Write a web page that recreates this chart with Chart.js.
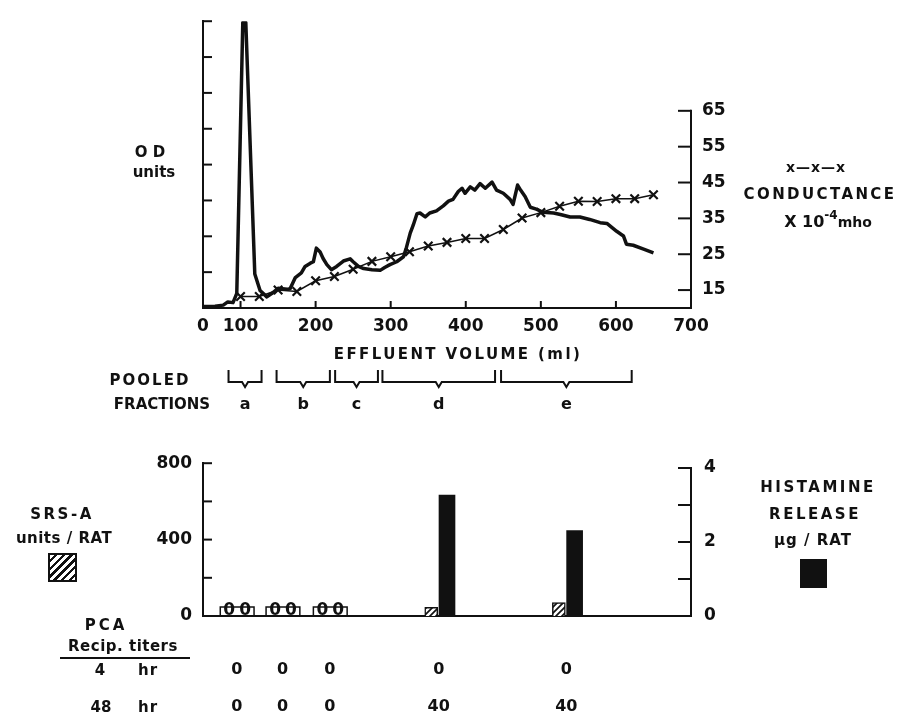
<!DOCTYPE html>
<html>
<head>
<meta charset="utf-8">
<script src="https://cdn.jsdelivr.net/npm/chart.js@4"></script>
<style>
  body { margin:0; background:#fff; width:899px; height:721px; position:relative; overflow:hidden;
         font-family:"DejaVu Sans", sans-serif; font-weight:bold; color:#111; }
  #top { position:absolute; left:0; top:0; }
  #bot { position:absolute; left:0; top:440px; }
  .t { position:absolute; transform:translate(-50%,-50%); white-space:nowrap; font-size:15px; line-height:1; }
  .sq { position:absolute; box-sizing:border-box; border:2px solid #111; }
</style>
</head>
<body>
<canvas id="top" width="899" height="440"></canvas>
<canvas id="bot" width="899" height="281"></canvas>

<!-- top panel labels -->
<div class="t" style="left:150px;top:152px">O D</div>
<div class="t" style="left:154px;top:172px">units</div>
<div class="t" style="left:816px;top:167px;font-size:14px;letter-spacing:1px">x—x—x</div>
<div class="t" style="left:820px;top:194px;letter-spacing:2.4px">CONDUCTANCE</div>
<div class="t" style="left:828px;top:222px;font-size:16px">X 10<span style="font-size:12px;position:relative;top:-8px">-4</span><span style="font-size:14px">mho</span></div>
<div class="t" style="left:458px;top:354px;letter-spacing:2.4px">EFFLUENT VOLUME (ml)</div>
<div class="t" style="left:150px;top:380px;letter-spacing:2px">POOLED</div>
<div class="t" style="left:162px;top:404px;letter-spacing:0px">FRACTIONS</div>

<!-- bottom panel labels -->
<div class="t" style="left:62px;top:514px;letter-spacing:2.5px">SRS-A</div>
<div class="t" style="left:64px;top:538px;letter-spacing:0.5px">units / RAT</div>
<div class="sq" style="left:48px;top:553px;width:29px;height:29px;background:repeating-linear-gradient(135deg,#fff 0 3px,#111 3px 5.5px)"></div>
<div class="t" style="left:818px;top:487px;letter-spacing:2.5px">HISTAMINE</div>
<div class="t" style="left:815px;top:514px;letter-spacing:2.5px">RELEASE</div>
<div class="t" style="left:813px;top:540px;letter-spacing:1px">µg / RAT</div>
<div class="sq" style="left:800px;top:559px;width:27px;height:29px;background:#111"></div>
<div class="t" style="left:106px;top:625px;letter-spacing:3px">PCA</div>
<div class="t" style="left:123px;top:646px;letter-spacing:0.5px">Recip. titers</div>
<div style="position:absolute;left:60px;top:657px;width:130px;height:0;border-top:2px solid #111"></div>
<div class="t" style="left:100px;top:670px">4</div>
<div class="t" style="left:148px;top:670px;letter-spacing:1px">hr</div>
<div class="t" style="left:101px;top:707px">48</div>
<div class="t" style="left:148px;top:707px;letter-spacing:1px">hr</div>

<script>
// ---------------------
// data
// ---------------------
const odVolume = [50, 66, 77, 83, 90, 95, 103, 107, 119, 126, 135, 142, 150, 162, 166, 173, 181, 186, 193, 197,
  201, 206, 210, 215, 221, 228, 237, 246, 250, 257, 264, 275, 286, 292, 299, 308, 317, 321, 326, 330,
  335, 339, 346, 352, 361, 370, 377, 383, 390, 395, 399, 406, 412, 419, 426, 435, 441, 450, 459, 463,
  469, 473, 479, 486, 494, 503, 517, 526, 539, 552, 565, 579, 588, 601, 610, 614, 623, 636, 650];
const odValues = [0.04, 0.05, 0.08, 0.17, 0.15, 0.41, 7.96, 7.96, 0.95, 0.49, 0.31, 0.41, 0.55, 0.52, 0.54, 0.85, 0.98, 1.16, 1.25, 1.29,
  1.67, 1.56, 1.38, 1.21, 1.07, 1.16, 1.31, 1.37, 1.29, 1.16, 1.10, 1.07, 1.05, 1.13, 1.21, 1.29, 1.43, 1.69, 2.09, 2.31,
  2.63, 2.65, 2.54, 2.65, 2.71, 2.85, 2.98, 3.03, 3.25, 3.34, 3.20, 3.38, 3.29, 3.47, 3.34, 3.51, 3.29, 3.20, 3.03, 2.89,
  3.43, 3.29, 3.11, 2.81, 2.76, 2.67, 2.65, 2.61, 2.54, 2.54, 2.47, 2.38, 2.36, 2.14, 2.01, 1.78, 1.75, 1.65, 1.54];

const condVolume = [100, 125, 150, 175, 200, 225, 250, 275, 300, 325, 350, 375, 400, 425, 450, 475, 500, 525, 550, 575, 600, 625, 650];
const condValues = [13.2, 13.2, 15.0, 14.6, 17.6, 18.8, 20.8, 23.0, 24.3, 25.7, 27.3, 28.3, 29.4, 29.4, 31.9, 35.1, 36.6, 38.4, 39.8, 39.7, 40.5, 40.5, 41.6];

const xTicks      = [50, 100, 200, 300, 400, 500, 600, 700];
const xTickLabels = ["0", "100", "200", "300", "400", "500", "600", "700"];
const odTicks     = [1, 2, 3, 4, 5, 6, 7, 8];
const condTicks   = [15, 25, 35, 45, 55, 65];

const fracNames = ["a", "b", "c", "d", "e"];
const fracStart = [84, 148, 226, 289, 447];
const fracEnd   = [128, 219, 283, 439, 621];

const groupVolume = [95, 156, 219, 364, 534];
const srsA        = [0, 0, 0, 45, 70];
const histamine   = [0, 0, 0, 3.27, 2.31];
const srsTicks    = [0, 200, 400, 600, 800];
const srsLabels   = ["0", "", "400", "", "800"];
const histTicks   = [0, 1, 2, 3, 4];
const histLabels  = ["0", "", "2", "", "4"];
const pca4hr      = [0, 0, 0, 0, 0];
const pca48hr     = [0, 0, 0, 40, 40];

// ---------------------
// shared bits
// ---------------------
const INK = "#111";
const tickFont = { family: "DejaVu Sans", size: 17, weight: "bold" };

function line(ctx, x1, y1, x2, y2) {
  ctx.beginPath(); ctx.moveTo(x1, y1); ctx.lineTo(x2, y2); ctx.stroke();
}

// ---------------------
// top panel: OD + conductance
// ---------------------
const topMarks = {
  id: "topMarks",
  afterDraw(chart) {
    const ctx = chart.ctx, a = chart.chartArea;
    const x = chart.scales.x, yOD = chart.scales.yOD, yC = chart.scales.yC;
    ctx.save();
    ctx.strokeStyle = INK; ctx.lineWidth = 2;
    // inward ticks
    odTicks.forEach(v => { const y = yOD.getPixelForValue(v); line(ctx, a.left, y, a.left + 9, y); });
    xTicks.slice(1).forEach(v => { const px = x.getPixelForValue(v); line(ctx, px, a.bottom, px, a.bottom - 7); });
    line(ctx, a.right, a.bottom, a.right, yC.getPixelForValue(65) - 1);
    condTicks.forEach(v => { const y = yC.getPixelForValue(v); line(ctx, a.right - 13, y, a.right, y); });
    // pooled fraction brackets
    const top = 370, mid = 382, tip = 387;
    ctx.lineWidth = 2;
    ctx.fillStyle = INK;
    ctx.font = "bold 16px 'DejaVu Sans'";
    ctx.textAlign = "center"; ctx.textBaseline = "middle";
    fracNames.forEach((n, i) => {
      const l = x.getPixelForValue(fracStart[i]), r = x.getPixelForValue(fracEnd[i]);
      const c = (l + r) / 2;
      ctx.beginPath();
      ctx.moveTo(l, top); ctx.lineTo(l, mid); ctx.lineTo(c - 3, mid); ctx.lineTo(c, tip);
      ctx.lineTo(c + 3, mid); ctx.lineTo(r, mid); ctx.lineTo(r, top);
      ctx.stroke();
      ctx.fillText(n, c, 405);
    });
    ctx.restore();
  }
};

new Chart(document.getElementById("top"), {
  type: "line",
  data: {
    datasets: [
      {
        label: "OD",
        data: odVolume.map((v, i) => ({ x: v, y: odValues[i] })),
        yAxisID: "yOD",
        borderColor: INK,
        borderWidth: 3.5,
        borderJoinStyle: "round",
        pointRadius: 0,
        tension: 0
      },
      {
        label: "Conductance",
        data: condVolume.map((v, i) => ({ x: v, y: condValues[i] })),
        yAxisID: "yC",
        borderColor: INK,
        borderWidth: 1.5,
        pointStyle: "crossRot",
        pointRadius: 6,
        pointBorderWidth: 2.2,
        pointBorderColor: INK,
        tension: 0
      }
    ]
  },
  options: {
    responsive: false,
    animation: false,
    layout: { padding: { top: 8, left: 0, right: 0, bottom: 0 } },
    plugins: { legend: { display: false }, tooltip: { enabled: false } },
    scales: {
      x: {
        type: "linear", min: 50, max: 700,
        afterBuildTicks: s => { s.ticks = xTicks.map(v => ({ value: v })); },
        afterFit: s => { s.height = 132; },
        ticks: { callback: (v, i) => xTickLabels[i], font: tickFont, color: INK, padding: 8, maxRotation: 0, autoSkip: false },
        grid: { display: false, drawTicks: false },
        border: { color: INK, width: 2 }
      },
      yOD: {
        position: "left", min: 0, max: 8,
        afterFit: s => { s.width = 203; },
        ticks: { display: false },
        grid: { display: false, drawTicks: false },
        border: { color: INK, width: 2 }
      },
      yC: {
        position: "right", min: 10, max: 90,
        afterBuildTicks: s => { s.ticks = condTicks.map(v => ({ value: v })); },
        afterFit: s => { s.width = 208; },
        ticks: { font: tickFont, color: INK, padding: 11 },
        grid: { display: false, drawTicks: false },
        border: { display: false }
      }
    }
  },
  plugins: [topMarks]
});

// ---------------------
// bottom panel: SRS-A + histamine bars
// ---------------------
const botCanvas = document.getElementById("bot");

function makeHatch(ctx) {
  const c = document.createElement("canvas");
  c.width = 6; c.height = 6;
  const g = c.getContext("2d");
  g.fillStyle = "#fff"; g.fillRect(0, 0, 6, 6);
  g.strokeStyle = INK; g.lineWidth = 1.7;
  g.beginPath();
  g.moveTo(0, 6); g.lineTo(6, 0);
  g.moveTo(-1, 1); g.lineTo(1, -1);
  g.moveTo(5, 7); g.lineTo(7, 5);
  g.stroke();
  return ctx.createPattern(c, "repeat");
}

const botMarks = {
  id: "botMarks",
  afterDraw(chart) {
    const ctx = chart.ctx, a = chart.chartArea;
    const x = chart.scales.x, yS = chart.scales.ySRS, yH = chart.scales.yHist;
    ctx.save();
    ctx.strokeStyle = INK; ctx.fillStyle = INK; ctx.lineWidth = 2;
    srsTicks.slice(1).forEach(v => { const y = yS.getPixelForValue(v); line(ctx, a.left, y, a.left + 9, y); });
    line(ctx, a.right, a.bottom, a.right, yH.getPixelForValue(4) - 1);
    histTicks.slice(1).forEach(v => { const y = yH.getPixelForValue(v); line(ctx, a.right - 13, y, a.right, y); });

    // groups with nothing measured: small frame with zeros
    ctx.font = "bold 17px 'DejaVu Sans'";
    ctx.textAlign = "center"; ctx.textBaseline = "alphabetic";
    groupVolume.forEach((v, i) => {
      if (srsA[i] !== 0 || histamine[i] !== 0) return;
      const xs = x.getPixelForValue(v - 10), xh = x.getPixelForValue(v + 11);
      ctx.lineWidth = 1.5;
      ctx.beginPath();
      ctx.moveTo(xs - 9, a.bottom); ctx.lineTo(xs - 9, a.bottom - 9);
      ctx.lineTo(xh + 9, a.bottom - 9); ctx.lineTo(xh + 9, a.bottom);
      ctx.stroke();
      ctx.fillText("0", xs, a.bottom - 1);
      ctx.fillText("0", xh, a.bottom - 1);
    });

    // PCA titres under each group
    ctx.font = "bold 16px 'DejaVu Sans'";
    ctx.textBaseline = "middle";
    groupVolume.forEach((v, i) => {
      const px = x.getPixelForValue(v);
      ctx.fillText(String(pca4hr[i]), px, 230);
      ctx.fillText(String(pca48hr[i]), px, 267);
    });
    ctx.restore();
  }
};

new Chart(botCanvas, {
  type: "bar",
  data: {
    datasets: [
      {
        label: "SRS-A units / RAT",
        data: groupVolume.map((v, i) => ({ x: v - 10, y: srsA[i] })),
        yAxisID: "ySRS",
        backgroundColor: makeHatch(botCanvas.getContext("2d")),
        borderColor: INK,
        borderWidth: 1.5,
        barThickness: 13,
        grouped: false
      },
      {
        label: "Histamine release µg / RAT",
        data: groupVolume.map((v, i) => ({ x: v + 11, y: histamine[i] })),
        yAxisID: "yHist",
        backgroundColor: INK,
        borderWidth: 0,
        barThickness: 16,
        grouped: false
      }
    ]
  },
  options: {
    responsive: false,
    animation: false,
    layout: { padding: { top: 23, left: 0, right: 0, bottom: 0 } },
    plugins: { legend: { display: false }, tooltip: { enabled: false } },
    scales: {
      x: {
        type: "linear", min: 50, max: 700, offset: false,
        afterFit: s => { s.height = 105; },
        ticks: { display: false },
        grid: { display: false, drawTicks: false },
        border: { color: INK, width: 2 }
      },
      ySRS: {
        position: "left", min: 0, max: 800,
        afterBuildTicks: s => { s.ticks = srsTicks.map(v => ({ value: v })); },
        afterFit: s => { s.width = 203; },
        ticks: { callback: (v, i) => srsLabels[i], font: tickFont, color: INK, padding: 11 },
        grid: { display: false, drawTicks: false },
        border: { color: INK, width: 2 }
      },
      yHist: {
        position: "right", min: 0, max: 4.13,
        afterBuildTicks: s => { s.ticks = histTicks.map(v => ({ value: v })); },
        afterFit: s => { s.width = 208; },
        ticks: { callback: (v, i) => histLabels[i], font: tickFont, color: INK, padding: 13 },
        grid: { display: false, drawTicks: false },
        border: { display: false }
      }
    }
  },
  plugins: [botMarks]
});
</script>
</body>
</html>
